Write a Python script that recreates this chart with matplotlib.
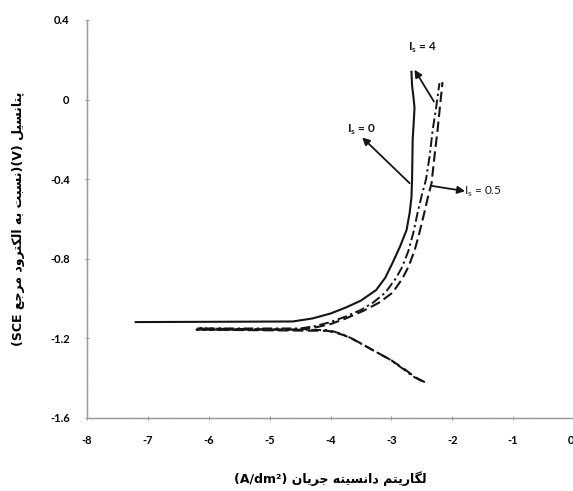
import matplotlib

matplotlib.use("Agg")
import matplotlib.pyplot as plt

# Tafel curves, log(i) [A/dm2] vs potential [V vs SCE]
logi_is0 = [-2.67, -2.66, -2.64, -2.62, -2.63, -2.65, -2.655, -2.66, -2.67, -2.70, -2.75,
            -2.86, -2.98, -3.10, -3.25, -3.50, -3.75, -4.00, -4.30, -4.62, -7.20]
e_is0 = [0.14, 0.07, 0.02, -0.04, -0.10, -0.20, -0.30, -0.40, -0.49, -0.57, -0.655,
         -0.74, -0.82, -0.895, -0.957, -1.01, -1.045, -1.075, -1.100, -1.115, -1.118]

logi_is4 = [-2.50, -2.65, -2.80, -3.03, -3.30, -3.52, -3.65, -3.80, -3.95, -4.07, -6.20,
            -4.50, -4.25, -4.00, -3.75, -3.50, -3.30, -3.10, -2.93, -2.82, -2.72, -2.64,
            -2.57, -2.50, -2.43, -2.37, -2.32, -2.26, -2.21]
e_is4 = [-1.415, -1.39, -1.355, -1.305, -1.26, -1.223, -1.20, -1.18, -1.165, -1.158, -1.150,
         -1.150, -1.138, -1.118, -1.09, -1.057, -1.02, -0.97, -0.90, -0.84, -0.76, -0.67,
         -0.57, -0.48, -0.40, -0.28, -0.15, -0.03, 0.083]

logi_is05 = [-2.45, -2.61, -2.76, -3.00, -3.28, -3.50, -3.64, -3.78, -3.93, -4.05, -6.20,
             -4.50, -4.25, -4.00, -3.75, -3.45, -3.20, -2.98, -2.82, -2.72, -2.62, -2.54,
             -2.46, -2.40, -2.34, -2.29, -2.24, -2.20, -2.16]
e_is05 = [-1.42, -1.395, -1.36, -1.31, -1.263, -1.225, -1.203, -1.184, -1.17, -1.162, -1.156,
          -1.156, -1.145, -1.128, -1.10, -1.06, -1.02, -0.97, -0.90, -0.84, -0.76, -0.67,
          -0.57, -0.49, -0.42, -0.28, -0.15, -0.03, 0.088]

x_ticks = [-8, -7, -6, -5, -4, -3, -2, -1, 0]
y_ticks = [0.4, 0, -0.4, -0.8, -1.2, -1.6]
y_tick_labels = ["0.4", "0", "-0.4", "-0.8", "-1.2", "-1.6"]

# presentation forms: isolated, final, initial, medial
_FORMS = {
    "ا": ("\uFE8D", "\uFE8E", None, None),
    "ب": ("\uFE8F", "\uFE90", "\uFE91", "\uFE92"),
    "پ": ("\uFB56", "\uFB57", "\uFB58", "\uFB59"),
    "ت": ("\uFE95", "\uFE96", "\uFE97", "\uFE98"),
    "ج": ("\uFE9D", "\uFE9E", "\uFE9F", "\uFEA0"),
    "د": ("\uFEA9", "\uFEAA", None, None),
    "ر": ("\uFEAD", "\uFEAE", None, None),
    "س": ("\uFEB1", "\uFEB2", "\uFEB3", "\uFEB4"),
    "ع": ("\uFEC9", "\uFECA", "\uFECB", "\uFECC"),
    "ک": ("\uFB8E", "\uFB8F", "\uFB90", "\uFB91"),
    "گ": ("\uFB92", "\uFB93", "\uFB94", "\uFB95"),
    "ل": ("\uFEDD", "\uFEDE", "\uFEDF", "\uFEE0"),
    "م": ("\uFEE1", "\uFEE2", "\uFEE3", "\uFEE4"),
    "ن": ("\uFEE5", "\uFEE6", "\uFEE7", "\uFEE8"),
    "ه": ("\uFEE9", "\uFEEA", "\uFEEB", "\uFEEC"),
    "و": ("\uFEED", "\uFEEE", None, None),
    "ی": ("\uFBFC", "\uFBFD", "\uFBFE", "\uFBFF"),
}


def rtl(word):
    """Shape a Persian word and return it in visual (left-to-right) order."""
    out = []
    for i, ch in enumerate(word):
        iso, fin, ini, med = _FORMS[ch]
        join_prev = i > 0 and _FORMS[word[i - 1]][2] is not None
        join_next = i < len(word) - 1 and ini is not None
        if join_prev and join_next:
            out.append(med)
        elif join_prev:
            out.append(fin)
        elif join_next:
            out.append(ini)
        else:
            out.append(iso)
    return "".join(reversed(out))


x_label = "(A/dm\u00b2) " + " ".join(rtl(w) for w in ["جریان", "دانسیته", "لگاریتم"])
y_label = ("(SCE " + " ".join(rtl(w) for w in ["مرجع", "الکترود", "به", "نسبت"])
           + ")(V) " + rtl("پتانسیل"))

fig = plt.figure(figsize=(5.73, 4.91), dpi=100)
fig.patch.set_facecolor("white")
ax = fig.add_axes([87 / 573, 73 / 491, 487 / 573, 398 / 491])

ink = "#151515"
ax.plot(logi_is05, e_is05, color=ink, lw=1.5, linestyle=(0, (5, 2.2)), zorder=3)
ax.plot(logi_is4, e_is4, color=ink, lw=1.4, linestyle=(0, (5, 1.8, 1.2, 1.8)), zorder=3)
ax.plot(logi_is0, e_is0, color=ink, lw=1.5, zorder=4)

arrow = dict(arrowstyle="-|>", color=ink, lw=1.3, mutation_scale=11, shrinkA=0, shrinkB=0)
ax.annotate("", xy=(-3.48, -0.19), xytext=(-2.70, -0.42), arrowprops=arrow)
ax.annotate("", xy=(-2.62, 0.15), xytext=(-2.30, -0.01), arrowprops=arrow)
ax.annotate("", xy=(-1.79, -0.46), xytext=(-2.33, -0.434), arrowprops=arrow)

lbl = dict(fontsize=8.5, color=ink, family="Lato", fontweight="bold")
ax.text(-3.49, -0.153, r"I$_\mathregular{s}$ = 0", ha="center", va="center", **lbl)
ax.text(-2.49, 0.259, r"I$_\mathregular{s}$ = 4", ha="center", va="center", **lbl)
ax.text(-1.80, -0.464, r"I$_\mathregular{s}$ = 0.5", ha="left", va="center",
        fontsize=8.5, color=ink, family="Lato")

ax.set_xlim(-8, 0)
ax.set_ylim(-1.6, 0.4)
ax.set_xticks(x_ticks)
ax.set_xticklabels([str(t) for t in x_ticks])
ax.set_yticks(y_ticks)
ax.set_yticklabels(y_tick_labels)
for t in ax.get_xticklabels() + ax.get_yticklabels():
    t.set_family("Lato")
    t.set_fontweight("bold")
    t.set_fontsize(8)
ax.get_xticklabels()[-1].set_horizontalalignment("right")
ax.tick_params(axis="x", direction="inout", length=3, width=0.6, color="#888888", pad=11)
ax.tick_params(axis="y", direction="inout", length=3, width=0.6, color="#888888", pad=11)

ax.spines[["top", "right"]].set_visible(False)
for s in ("left", "bottom"):
    ax.spines[s].set_color("#9a9a9a")
    ax.spines[s].set_linestyle((0, (1, 0.6)))
    ax.spines[s].set_linewidth(1.0)

ax.set_xlabel(x_label, fontsize=9, fontweight="bold", family="DejaVu Sans", labelpad=18)
ax.set_ylabel(y_label, fontsize=9, fontweight="bold", family="DejaVu Sans", labelpad=18)

fig.savefig("out.png", dpi=100, facecolor="white")
